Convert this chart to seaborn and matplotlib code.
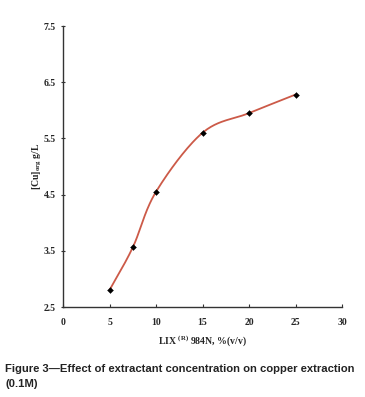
import numpy as np
import matplotlib
matplotlib.use("Agg")
import matplotlib.pyplot as plt
import seaborn as sns

x_vals = [5, 7.5, 10, 15, 20, 25]
y_vals = [2.80, 3.56, 4.55, 5.60, 5.95, 6.28]
x_ticks = [0, 5, 10, 15, 20, 25, 30]
y_ticks = [2.5, 3.5, 4.5, 5.5, 6.5, 7.5]

sns.set_theme(style="ticks")
plt.rcParams['font.family'] = ['Liberation Serif', 'DejaVu Serif']
plt.rcParams['mathtext.fontset'] = 'custom'
plt.rcParams['mathtext.bf'] = 'Liberation Serif:bold'
plt.rcParams['mathtext.rm'] = 'Liberation Serif'

def catmull_rom(xs, ys, n=40):
    # Excel-like smoothed line through the data points
    P = np.column_stack([xs, ys]).astype(float)
    P = np.vstack([2 * P[0] - P[1], P, 2 * P[-1] - P[-2]])
    out = []
    for i in range(1, len(P) - 2):
        p0, p1, p2, p3 = P[i - 1], P[i], P[i + 1], P[i + 2]
        t = np.linspace(0, 1, n)[:, None]
        seg = 0.5 * ((2 * p1) + (-p0 + p2) * t + (2 * p0 - 5 * p1 + 4 * p2 - p3) * t ** 2
                     + (-p0 + 3 * p1 - 3 * p2 + p3) * t ** 3)
        out.append(seg)
    return np.vstack(out)

fig = plt.figure(figsize=(3.65, 3.97), dpi=100)
ax = fig.add_axes([0.1726, 0.2267, 0.7644, 0.7078])

curve = catmull_rom(x_vals, y_vals)
ax.plot(curve[:, 0], curve[:, 1], color='#cc5a48', lw=1.3, zorder=2)
sns.scatterplot(x=x_vals, y=y_vals, ax=ax, marker='D', s=9, color='black',
                edgecolor='black', linewidth=0.3, zorder=3)

ax.set_xlim(0, 30)
ax.set_ylim(2.5, 7.5)
ax.set_xticks(x_ticks)
ax.set_yticks(y_ticks)
ax.set_xticklabels([str(v) for v in x_ticks], fontsize=7, fontweight='bold')
ax.set_yticklabels([f"{v:.1f}" for v in y_ticks], fontsize=7, fontweight='bold')
ax.tick_params(axis='both', length=2.5, width=0.8, color='#333333')
ax.tick_params(axis='x', direction='in', pad=8)
ax.tick_params(axis='y', direction='inout', pad=4)
for s in ['top', 'right']:
    ax.spines[s].set_visible(False)
for s in ['left', 'bottom']:
    ax.spines[s].set_color('#333333')
    ax.spines[s].set_linewidth(1.0)

ax.set_xlabel(r"LIX $^{\mathbf{(R)}}$ 984N, %(v/v)", fontsize=7, fontweight='bold', labelpad=5)
ax.set_ylabel(r"[Cu]$_{\mathbf{org}}$ g/L", fontsize=7, fontweight='bold', labelpad=0)

cap = fig.text(0.014, 0.052, "Figure 3\u2014Effect of extractant concentration on copper extraction\n(0.1M)",
               fontsize=9, fontweight='bold', family=['Liberation Sans', 'DejaVu Sans'],
               color='#222222', va='center', ha='left', linespacing=1.65)
# shrink caption to fit the reference width (~350 px)
fig.canvas.draw()
w = cap.get_window_extent().width
cap.set_fontsize(9 * 350.0 / w)

fig.savefig("out.png", dpi=100, facecolor='white')
